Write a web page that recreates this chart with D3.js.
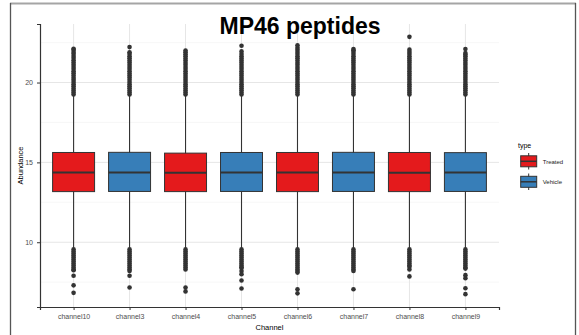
<!DOCTYPE html>
<html>
<head>
<meta charset="utf-8">
<script src="https://cdn.jsdelivr.net/npm/d3@7"></script>
<style>
  body { margin: 0; background: #fff; }
  svg { display: block; font-family: "Liberation Sans", Arial, sans-serif; }
</style>
</head>
<body>
<svg id="chart" width="579" height="335"></svg>
<script>
// chart data
const categories = ['channel10', 'channel3', 'channel4', 'channel5', 'channel6', 'channel7', 'channel8', 'channel9'];
const types = ['Treated', 'Vehicle', 'Treated', 'Vehicle', 'Treated', 'Vehicle', 'Treated', 'Vehicle'];
const typeNames = ['Treated', 'Vehicle'];
const typeColors = ['#E41A1C', '#377EB8'];

const q1 = [13.17, 13.18, 13.17, 13.18, 13.17, 13.18, 13.17, 13.18];
const medians = [14.36, 14.36, 14.35, 14.36, 14.36, 14.36, 14.35, 14.36];
const q3 = [15.62, 15.63, 15.58, 15.62, 15.62, 15.63, 15.62, 15.61];
const whiskerLow = [9.6, 9.6, 9.6, 9.6, 9.6, 9.6, 9.6, 9.6];
const whiskerHigh = [19.2, 19.2, 19.2, 19.2, 19.2, 19.2, 19.2, 19.2];

const outliersHigh = [
  [19.25, 19.38, 19.5, 19.63, 19.77, 19.9, 20.04, 20.17, 20.3, 20.44, 20.58, 20.71, 20.85, 20.98, 21.12, 21.25, 21.4, 21.53, 21.66, 21.8, 21.92, 22.05, 22.12],
  [19.25, 19.38, 19.5, 19.64, 19.77, 19.9, 20.03, 20.17, 20.31, 20.44, 20.57, 20.71, 20.84, 20.98, 21.11, 21.25, 21.38, 21.52, 21.65, 21.78, 21.9, 22.22],
  [19.25, 19.37, 19.5, 19.63, 19.76, 19.9, 20.04, 20.17, 20.3, 20.43, 20.57, 20.7, 20.84, 20.97, 21.11, 21.24, 21.38, 21.51, 21.64, 21.77, 21.89, 22.0],
  [19.25, 19.38, 19.51, 19.64, 19.77, 19.9, 20.04, 20.17, 20.3, 20.44, 20.57, 20.71, 20.84, 20.98, 21.11, 21.25, 21.38, 21.51, 21.65, 21.78, 21.95, 22.3],
  [19.25, 19.38, 19.5, 19.63, 19.77, 19.9, 20.03, 20.17, 20.3, 20.44, 20.57, 20.7, 20.84, 20.97, 21.11, 21.24, 21.38, 21.52, 21.65, 21.78, 21.92, 22.05, 22.18, 22.33],
  [19.25, 19.37, 19.5, 19.64, 19.77, 19.9, 20.04, 20.17, 20.3, 20.43, 20.57, 20.71, 20.84, 20.97, 21.11, 21.25, 21.38, 21.51, 21.65, 21.78, 21.91, 22.02, 22.1],
  [19.25, 19.38, 19.5, 19.63, 19.76, 19.9, 20.03, 20.17, 20.3, 20.44, 20.57, 20.7, 20.84, 20.98, 21.11, 21.25, 21.38, 21.51, 21.65, 21.78, 21.92, 22.06, 22.86],
  [19.25, 19.38, 19.51, 19.64, 19.77, 19.9, 20.03, 20.17, 20.3, 20.43, 20.57, 20.71, 20.84, 20.97, 21.11, 21.24, 21.38, 21.51, 21.64, 21.76, 21.85, 22.1]
];
const outliersLow = [
  [9.55, 9.42, 9.3, 9.17, 9.05, 8.92, 8.8, 8.67, 8.55, 8.42, 8.3, 8.25, 7.9, 7.3, 6.83],
  [9.55, 9.42, 9.3, 9.17, 9.04, 8.92, 8.79, 8.67, 8.54, 8.42, 8.3, 8.2, 7.9, 7.17],
  [9.55, 9.42, 9.3, 9.17, 9.05, 8.92, 8.8, 8.67, 8.55, 8.42, 8.3, 7.17, 6.92],
  [9.55, 9.42, 9.3, 9.17, 9.05, 8.92, 8.8, 8.67, 8.55, 8.42, 8.4, 8.2, 8.0, 7.6, 7.1],
  [9.55, 9.42, 9.3, 9.17, 9.05, 8.92, 8.8, 8.67, 8.55, 8.42, 8.3, 8.2, 8.1, 7.06, 6.8],
  [9.55, 9.42, 9.3, 9.17, 9.04, 8.92, 8.79, 8.67, 8.54, 8.42, 8.3, 8.2, 7.06],
  [9.55, 9.42, 9.3, 9.17, 9.05, 8.92, 8.8, 8.67, 8.55, 8.46, 8.3, 7.86],
  [9.55, 9.42, 9.3, 9.17, 9.05, 8.92, 8.8, 8.67, 8.55, 8.42, 8.35, 7.94, 7.75, 7.12, 6.75]
];

const yMajor = [10, 15, 20];
const yMinor = [7.5, 12.5, 17.5, 22.5];

const svg = d3.select('#chart');
const margin = { top: 24, right: 80, bottom: 28, left: 40 };
const width = +svg.attr('width');
const height = +svg.attr('height');
const panelW = width - margin.left - margin.right;
const panelH = height - margin.top - margin.bottom;

// outer frame of the screenshot
svg.append('line').attr('x1', 10).attr('x2', 576).attr('y1', 3.5).attr('y2', 3.5)
  .attr('stroke', '#a5a5a5').attr('stroke-width', 2);
svg.append('line').attr('x1', 10.5).attr('x2', 10.5).attr('y1', 3).attr('y2', height)
  .attr('stroke', '#555').attr('stroke-width', 1.3);
svg.append('line').attr('x1', 575.5).attr('x2', 575.5).attr('y1', 3).attr('y2', height)
  .attr('stroke', '#555').attr('stroke-width', 1.3);

// scales (ggplot-like expansion)
const allVals = d3.merge([...outliersHigh, ...outliersLow, whiskerLow, whiskerHigh]);
const [yMin, yMax] = d3.extent(allVals);
const pad = (yMax - yMin) * 0.05;
const y = d3.scaleLinear().domain([yMin - pad, yMax + pad]).range([panelH, 0]);
const x = d3.scalePoint().domain(categories).range([0, panelW]).padding(0.6);
const color = d3.scaleOrdinal().domain(typeNames).range(typeColors);
const boxW = x.step() * 0.75;

const g = svg.append('g').attr('transform', `translate(${margin.left},${margin.top})`);

// grid
g.selectAll('.minor').data(yMinor).enter().append('line')
  .attr('x1', 0).attr('x2', panelW)
  .attr('y1', d => y(d)).attr('y2', d => y(d))
  .attr('stroke', '#f3f3f3').attr('stroke-width', 0.7);
g.selectAll('.major').data(yMajor).enter().append('line')
  .attr('x1', 0).attr('x2', panelW)
  .attr('y1', d => y(d)).attr('y2', d => y(d))
  .attr('stroke', '#e6e6e6').attr('stroke-width', 1);
g.selectAll('.vgrid').data(categories).enter().append('line')
  .attr('x1', d => x(d)).attr('x2', d => x(d))
  .attr('y1', 0).attr('y2', panelH)
  .attr('stroke', '#e6e6e6').attr('stroke-width', 1);

// boxes
const boxes = g.selectAll('.box').data(categories).enter().append('g')
  .attr('class', 'box')
  .attr('transform', d => `translate(${x(d)},0)`);

boxes.append('line')
  .attr('y1', (d, i) => y(whiskerHigh[i])).attr('y2', (d, i) => y(whiskerLow[i]))
  .attr('stroke', '#333').attr('stroke-width', 1.1);

boxes.append('rect')
  .attr('x', -boxW / 2).attr('width', boxW)
  .attr('y', (d, i) => y(q3[i]))
  .attr('height', (d, i) => y(q1[i]) - y(q3[i]))
  .attr('fill', (d, i) => color(types[i]))
  .attr('stroke', '#333').attr('stroke-width', 1);

boxes.append('line')
  .attr('x1', -boxW / 2).attr('x2', boxW / 2)
  .attr('y1', (d, i) => y(medians[i])).attr('y2', (d, i) => y(medians[i]))
  .attr('stroke', '#333').attr('stroke-width', 2);

boxes.each(function(d, i) {
  d3.select(this).selectAll('circle')
    .data(outliersHigh[i].concat(outliersLow[i]))
    .enter().append('circle')
    .attr('cx', 0).attr('cy', v => y(v)).attr('r', 2.3)
    .attr('fill', '#333');
});

// axes
const xAxis = g.append('g')
  .attr('transform', `translate(0,${panelH})`)
  .call(d3.axisBottom(x).tickSize(3).tickPadding(4));
const yAxis = g.append('g')
  .call(d3.axisLeft(y).tickValues(yMajor).tickSize(3).tickPadding(4));

[xAxis, yAxis].forEach(a => {
  a.select('.domain').attr('stroke', '#333').attr('stroke-width', 1.2);
  a.selectAll('.tick line').attr('stroke', '#333');
  a.selectAll('.tick text').attr('fill', '#4d4d4d').style('font-size', '7px')
    .style('font-family', '"Liberation Sans", Arial, sans-serif');
});

// axis titles
svg.append('text')
  .attr('x', margin.left + panelW / 2).attr('y', 329.5)
  .attr('text-anchor', 'middle').style('font-size', '7.5px')
  .text('Channel');
svg.append('text')
  .attr('transform', `translate(23,${margin.top + panelH / 2}) rotate(-90)`)
  .attr('text-anchor', 'middle').style('font-size', '7.5px')
  .text('Abundance');

// title
svg.append('text')
  .attr('x', 300).attr('y', 33.5)
  .attr('text-anchor', 'middle')
  .style('font-size', '23px').style('font-weight', 'bold')
  .text('MP46 peptides');

// legend
const legend = svg.append('g').attr('transform', 'translate(518,0)');
legend.append('text').attr('x', 0).attr('y', 147.5)
  .style('font-size', '7px').text('type');

const keys = legend.selectAll('.key').data(typeNames).enter().append('g')
  .attr('transform', (d, i) => `translate(0,${153 + i * 20.5})`);
keys.append('line').attr('x1', 10.7).attr('x2', 10.7).attr('y1', 0).attr('y2', 16.5)
  .attr('stroke', '#333').attr('stroke-width', 1);
keys.append('rect').attr('x', 2.7).attr('y', 2.8).attr('width', 16).attr('height', 11)
  .attr('fill', d => color(d)).attr('stroke', '#333').attr('stroke-width', 1);
keys.append('line').attr('x1', 2.7).attr('x2', 18.7).attr('y1', 8.3).attr('y2', 8.3)
  .attr('stroke', '#333').attr('stroke-width', 1.5);
keys.append('text').attr('x', 24.7).attr('y', 10.5)
  .style('font-size', '6px').attr('fill', '#222')
  .text(d => d);
</script>
</body>
</html>
